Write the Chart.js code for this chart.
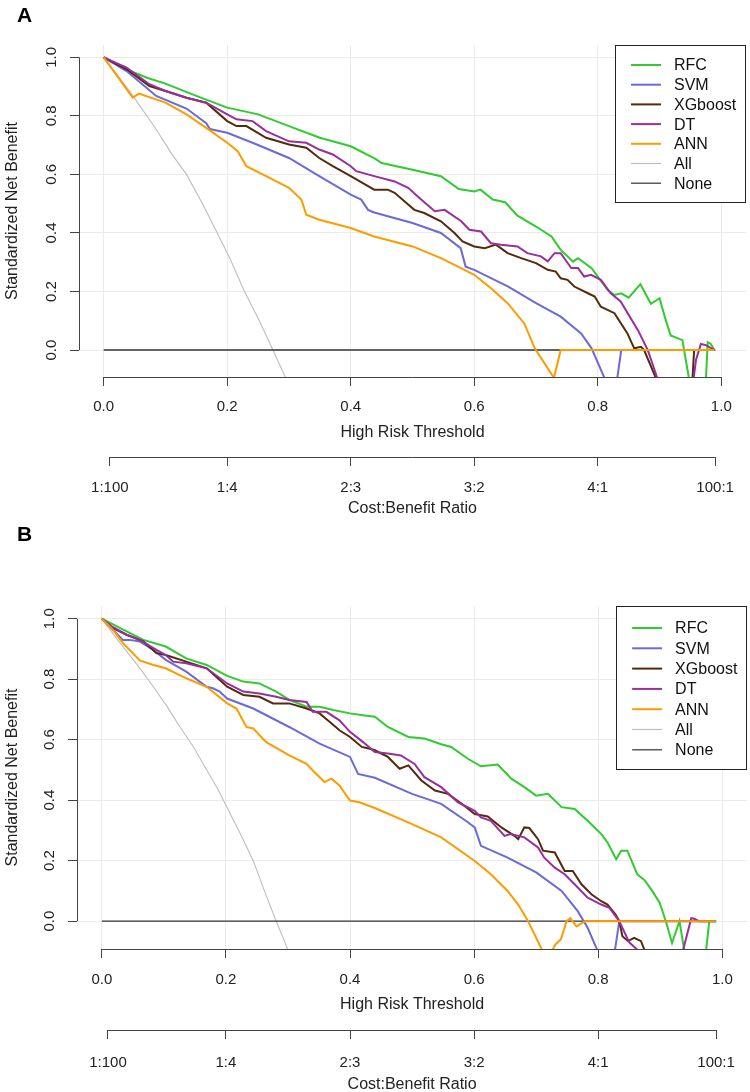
<!DOCTYPE html>
<html><head><meta charset="utf-8">
<script src="https://cdn.jsdelivr.net/npm/chart.js@4.4.0/dist/chart.umd.min.js"></script>
<style>
html,body{margin:0;padding:0;background:#fff;}
#wrap{position:relative;width:750px;height:1092px;overflow:hidden;}
.panel{position:absolute;left:0;width:750px;}
.tag{position:absolute;left:17px;font:bold 21px "Liberation Sans",Arial,sans-serif;line-height:21px;color:#000;}
</style></head><body>
<div id="wrap">
<div class="panel" style="top:0;height:525px"><canvas id="cA" width="750" height="525"></canvas></div>
<div class="panel" style="top:525px;height:570px"><canvas id="cB" width="750" height="570"></canvas></div>
<div class="tag" style="top:4px">A</div>
<div class="tag" style="top:523px">B</div>
</div>
<script>
// ---- shared labels / ticks ----
const modelNames = ['RFC','SVM','XGboost','DT','ANN','All','None'];
const modelColors = ['#2FCB2F','#6A6AD8','#542A0C','#9A2E9A','#FF9A00','#BDBDBD','#333333'];
const xTicks = [0,0.2,0.4,0.6,0.8,1.0];
const yTicks = [0,0.2,0.4,0.6,0.8,1.0];
const costTicks = [0.0099,0.2,0.4,0.6,0.8,0.99];
const costLabels = ['1:100','1:4','2:3','3:2','4:1','100:1'];

// ---- panel A series: [threshold, standardized net benefit] ----
const rfcA = [[0,1],[0.037,0.959],[0.07,0.93],[0.1,0.91],[0.15,0.868],[0.2,0.828],[0.25,0.805],[0.3,0.765],[0.35,0.725],[0.4,0.696],[0.44,0.653],[0.45,0.639],[0.5,0.616],[0.546,0.594],[0.575,0.55],[0.6,0.542],[0.61,0.548],[0.63,0.514],[0.65,0.505],[0.67,0.459],[0.7,0.422],[0.725,0.388],[0.74,0.342],[0.76,0.302],[0.768,0.314],[0.79,0.28],[0.8,0.251],[0.816,0.205],[0.827,0.188],[0.838,0.194],[0.85,0.179],[0.869,0.225],[0.886,0.158],[0.9,0.177],[0.91,0.103],[0.918,0.05],[0.937,0.034],[0.952,-0.15],[0.974,-0.15],[0.978,0.027],[0.983,0.021],[0.989,0]];
const svmA = [[0,1],[0.037,0.953],[0.085,0.868],[0.134,0.825],[0.166,0.775],[0.172,0.755],[0.2,0.742],[0.241,0.708],[0.3,0.656],[0.349,0.594],[0.4,0.531],[0.417,0.514],[0.428,0.479],[0.438,0.47],[0.5,0.434],[0.546,0.4],[0.578,0.348],[0.586,0.285],[0.6,0.274],[0.655,0.217],[0.7,0.16],[0.74,0.114],[0.773,0.057],[0.79,0.006],[0.822,-0.15],[0.828,-0.15],[0.838,0],[0.99,0]];
const xgbA = [[0,1],[0.037,0.959],[0.074,0.902],[0.1,0.885],[0.134,0.862],[0.166,0.845],[0.2,0.782],[0.215,0.765],[0.231,0.765],[0.263,0.725],[0.3,0.702],[0.328,0.691],[0.349,0.656],[0.371,0.628],[0.4,0.594],[0.438,0.548],[0.46,0.548],[0.471,0.537],[0.503,0.479],[0.519,0.468],[0.546,0.44],[0.568,0.4],[0.581,0.371],[0.6,0.354],[0.617,0.348],[0.635,0.36],[0.654,0.331],[0.676,0.314],[0.7,0.297],[0.719,0.274],[0.732,0.268],[0.74,0.245],[0.751,0.24],[0.762,0.217],[0.784,0.194],[0.795,0.183],[0.805,0.148],[0.827,0.126],[0.848,0.057],[0.859,0.006],[0.87,0.011],[0.875,0],[0.905,-0.15],[0.952,-0.15],[0.956,0],[0.99,0]];
const dtA = [[0,1],[0.037,0.965],[0.074,0.908],[0.1,0.885],[0.134,0.862],[0.166,0.845],[0.2,0.805],[0.215,0.788],[0.241,0.782],[0.263,0.748],[0.3,0.713],[0.328,0.708],[0.349,0.685],[0.371,0.668],[0.4,0.628],[0.409,0.611],[0.438,0.594],[0.471,0.576],[0.493,0.554],[0.514,0.514],[0.536,0.474],[0.552,0.479],[0.579,0.44],[0.592,0.411],[0.611,0.405],[0.627,0.365],[0.643,0.36],[0.67,0.354],[0.686,0.331],[0.708,0.32],[0.719,0.303],[0.73,0.331],[0.74,0.331],[0.757,0.28],[0.768,0.28],[0.778,0.251],[0.789,0.257],[0.805,0.24],[0.821,0.194],[0.837,0.166],[0.865,0.068],[0.881,0],[0.905,-0.15],[0.952,-0.15],[0.959,-0.034],[0.967,0.021],[0.975,0.017],[0.989,0]];
const annA = [[0,1],[0.047,0.862],[0.057,0.876],[0.1,0.845],[0.134,0.805],[0.166,0.759],[0.2,0.708],[0.217,0.679],[0.231,0.628],[0.263,0.594],[0.3,0.554],[0.32,0.514],[0.328,0.462],[0.349,0.445],[0.4,0.417],[0.438,0.388],[0.5,0.354],[0.546,0.314],[0.6,0.257],[0.627,0.211],[0.654,0.16],[0.681,0.091],[0.698,0.006],[0.729,-0.095],[0.74,0],[0.989,0]];
const allA = [[0,1],[0.02,0.945],[0.04,0.89],[0.06,0.83],[0.083,0.76],[0.11,0.67],[0.134,0.6],[0.16,0.5],[0.184,0.4],[0.205,0.31],[0.228,0.2],[0.252,0.1],[0.274,0],[0.3,-0.12]];
const noneA = [[0,0],[0.99,0]];

// ---- panel B series ----
const rfcB = [[0,1],[0.04,0.958],[0.067,0.93],[0.103,0.908],[0.136,0.869],[0.169,0.847],[0.202,0.811],[0.228,0.792],[0.254,0.786],[0.281,0.759],[0.303,0.731],[0.33,0.709],[0.351,0.709],[0.373,0.698],[0.4,0.687],[0.421,0.681],[0.44,0.676],[0.461,0.642],[0.494,0.609],[0.52,0.604],[0.547,0.585],[0.563,0.576],[0.59,0.537],[0.611,0.512],[0.638,0.518],[0.66,0.471],[0.681,0.443],[0.7,0.415],[0.719,0.421],[0.741,0.377],[0.762,0.371],[0.783,0.332],[0.805,0.288],[0.815,0.26],[0.829,0.205],[0.837,0.233],[0.847,0.233],[0.863,0.155],[0.875,0.135],[0.887,0.1],[0.899,0.061],[0.909,0],[0.919,-0.072],[0.931,0],[0.943,-0.15],[0.971,-0.15],[0.979,0],[0.99,0]];
const svmB = [[0,1],[0.034,0.93],[0.045,0.93],[0.061,0.925],[0.083,0.897],[0.103,0.864],[0.136,0.825],[0.169,0.775],[0.179,0.77],[0.19,0.759],[0.202,0.736],[0.244,0.703],[0.302,0.642],[0.351,0.587],[0.4,0.543],[0.413,0.487],[0.44,0.474],[0.5,0.421],[0.547,0.388],[0.59,0.327],[0.601,0.31],[0.611,0.249],[0.654,0.21],[0.7,0.161],[0.741,0.1],[0.767,0.033],[0.783,-0.022],[0.81,-0.15],[0.823,-0.15],[0.834,0],[0.99,0]];
const xgbB = [[0,1],[0.018,0.969],[0.04,0.947],[0.067,0.925],[0.088,0.886],[0.103,0.88],[0.136,0.858],[0.169,0.836],[0.202,0.775],[0.228,0.748],[0.254,0.742],[0.276,0.72],[0.302,0.72],[0.33,0.703],[0.351,0.687],[0.367,0.659],[0.383,0.631],[0.4,0.609],[0.419,0.576],[0.432,0.57],[0.44,0.565],[0.461,0.543],[0.48,0.504],[0.494,0.515],[0.515,0.465],[0.537,0.432],[0.558,0.421],[0.58,0.388],[0.601,0.354],[0.622,0.346],[0.644,0.31],[0.665,0.282],[0.671,0.271],[0.681,0.31],[0.689,0.308],[0.703,0.271],[0.711,0.233],[0.73,0.227],[0.746,0.166],[0.759,0.166],[0.773,0.122],[0.789,0.089],[0.805,0.066],[0.815,0.055],[0.828,0.022],[0.834,0],[0.839,-0.05],[0.848,-0.066],[0.858,-0.055],[0.869,-0.066],[0.885,-0.15]];
const dtB = [[0,1],[0.018,0.972],[0.04,0.947],[0.061,0.93],[0.088,0.897],[0.103,0.88],[0.115,0.858],[0.136,0.853],[0.169,0.836],[0.202,0.786],[0.228,0.759],[0.254,0.753],[0.281,0.742],[0.302,0.731],[0.33,0.725],[0.34,0.692],[0.362,0.692],[0.383,0.664],[0.4,0.626],[0.421,0.592],[0.44,0.559],[0.461,0.554],[0.482,0.548],[0.504,0.52],[0.52,0.476],[0.547,0.443],[0.574,0.393],[0.601,0.365],[0.611,0.343],[0.627,0.332],[0.649,0.282],[0.659,0.288],[0.681,0.277],[0.703,0.244],[0.713,0.21],[0.73,0.177],[0.746,0.155],[0.762,0.122],[0.783,0.078],[0.805,0.055],[0.818,0.044],[0.834,0],[0.85,-0.07],[0.866,-0.1],[0.87,-0.15],[0.93,-0.15],[0.95,0.01],[0.955,0.008],[0.962,0],[0.99,0]];
const annB = [[0,1],[0.018,0.963],[0.034,0.919],[0.05,0.886],[0.061,0.862],[0.083,0.847],[0.103,0.836],[0.136,0.803],[0.169,0.775],[0.202,0.72],[0.217,0.703],[0.233,0.642],[0.244,0.637],[0.265,0.592],[0.302,0.548],[0.33,0.52],[0.34,0.498],[0.359,0.46],[0.37,0.471],[0.383,0.449],[0.4,0.399],[0.415,0.393],[0.44,0.374],[0.5,0.321],[0.547,0.277],[0.601,0.199],[0.627,0.155],[0.654,0.1],[0.671,0.055],[0.687,0],[0.713,-0.11],[0.722,-0.11],[0.731,-0.077],[0.74,-0.06],[0.749,0],[0.755,0.01],[0.765,-0.017],[0.779,0],[0.99,0]];
const allB = [[0,1],[0.02,0.945],[0.04,0.892],[0.06,0.84],[0.083,0.775],[0.105,0.71],[0.126,0.642],[0.148,0.575],[0.169,0.5],[0.186,0.44],[0.202,0.375],[0.223,0.29],[0.244,0.2],[0.262,0.1],[0.281,0],[0.305,-0.12]];
const noneB = [[0,0],[0.99,0]];

const FONT = '"Liberation Sans", Arial, sans-serif';
Chart.defaults.font.family = FONT;
Chart.defaults.color = '#222';

const rAxes = {
  id: 'rAxes',
  afterDraw(chart) {
    const {ctx, chartArea, scales} = chart;
    const x = scales.x, y = scales.y, x2 = scales.x2;
    ctx.save();
    ctx.strokeStyle = '#444';
    ctx.lineWidth = 1;
    ctx.beginPath();
    const lx = Math.round(chartArea.left) + 0.5;
    ctx.moveTo(lx, y.getPixelForValue(yTicks[0]));
    ctx.lineTo(lx, y.getPixelForValue(yTicks[yTicks.length-1]));
    const by = Math.round(chartArea.bottom) + 0.5;
    ctx.moveTo(x.getPixelForValue(xTicks[0]), by);
    ctx.lineTo(x.getPixelForValue(xTicks[xTicks.length-1]), by);
    const cy = Math.round(x2.top) + 0.5;
    ctx.moveTo(x2.getPixelForValue(costTicks[0]), cy);
    ctx.lineTo(x2.getPixelForValue(costTicks[costTicks.length-1]), cy);
    ctx.stroke();
    ctx.restore();
  }
};

const rLegend = {
  id: 'rLegend',
  afterDraw(chart, args, opts) {
    const {ctx, chartArea} = chart;
    const w = 131, h = opts.h, step = opts.step;
    const right = chartArea.right, top = chartArea.top;
    const left = right - w;
    ctx.save();
    ctx.fillStyle = '#fff';
    ctx.fillRect(left, top, w, h);
    ctx.strokeStyle = '#222';
    ctx.lineWidth = 1;
    ctx.strokeRect(Math.round(left)+0.5, Math.round(top)+0.5, w-1, h-1);
    ctx.font = '16px ' + FONT;
    ctx.textBaseline = 'middle';
    ctx.textAlign = 'left';
    modelNames.forEach((name, i) => {
      const yy = top + opts.first + i * step;
      ctx.strokeStyle = modelColors[i];
      ctx.lineWidth = i < 5 ? 2 : 1.2;
      ctx.beginPath();
      ctx.moveTo(left + 16, yy);
      ctx.lineTo(left + 46, yy);
      ctx.stroke();
      ctx.fillStyle = '#111';
      ctx.fillText(name, left + 59, yy + 1);
    });
    ctx.restore();
  }
};

function makePanel(id, series, L) {
  const datasets = series.map((d, i) => ({
    label: modelNames[i],
    data: d,
    borderColor: modelColors[i],
    backgroundColor: modelColors[i],
    borderWidth: i < 5 ? 2 : (i === 5 ? 1.1 : 1.4),
    pointRadius: 0,
    tension: 0,
    fill: false,
    order: [5,4,3,2,1,7,6][i],
    xAxisID: 'x', yAxisID: 'y'
  }));
  return new Chart(document.getElementById(id), {
    type: 'line',
    data: { datasets },
    plugins: [rAxes, rLegend],
    options: {
      responsive: false,
      animation: false,
      layout: { padding: { top: L.top, right: L.right, left: 0, bottom: L.bottom } },
      plugins: { legend: { display: false }, tooltip: { enabled: false },
        rLegend: { h: L.legH, step: L.legStep, first: L.legFirst } },
      scales: {
        x: {
          type: 'linear', position: 'bottom', weight: 0, min: -0.04, max: 1.04,
          afterBuildTicks: a => { a.ticks = xTicks.map(v => ({ value: v })); },
          afterFit: s => { s.height = L.xH; },
          grid: { color: '#EBEBEB', lineWidth: 1, drawTicks: true, tickLength: 9, tickColor: '#444', tickWidth: 1 },
          border: { display: false },
          ticks: { autoSkip: false, maxRotation: 0, minRotation: 0, padding: L.xPad, font: { size: 15 }, color: '#222', callback: v => Number(v).toFixed(1) },
          title: { display: true, text: 'High Risk Threshold', font: { size: 16 }, color: '#222', padding: { top: 0, bottom: L.xTb } }
        },
        x2: {
          type: 'linear', position: 'bottom', weight: 1, min: -0.04, max: 1.04,
          afterBuildTicks: a => { a.ticks = costTicks.map(v => ({ value: v })); },
          afterFit: s => { s.height = L.x2H; },
          grid: { drawOnChartArea: false, drawTicks: true, tickLength: 9, tickColor: '#444', color: '#444', tickWidth: 1 },
          border: { display: false },
          ticks: { autoSkip: false, maxRotation: 0, minRotation: 0, padding: L.x2Pad, font: { size: 15 }, color: '#222', callback: (v, i) => costLabels[i] },
          title: { display: true, text: 'Cost:Benefit Ratio', font: { size: 16 }, color: '#222', padding: { top: 0, bottom: L.x2Tb } }
        },
        y: {
          type: 'linear', position: 'left', min: -0.092, max: 1.042,
          afterBuildTicks: a => { a.ticks = yTicks.map(v => ({ value: v })); },
          afterFit: s => { s.width = L.yW; },
          grid: { color: '#EBEBEB', lineWidth: 1, drawTicks: true, tickLength: 9, tickColor: '#444', tickWidth: 1 },
          border: { display: false },
          ticks: { minRotation: 90, maxRotation: 90, crossAlign: 'center', padding: 8, font: { size: 15 }, color: '#222', callback: v => Number(v).toFixed(1) },
          title: { display: true, text: 'Standardized Net Benefit', font: { size: 16 }, color: '#222', padding: { top: 3, bottom: 0 } }
        }
      }
    }
  });
}

makePanel('cA', [rfcA, svmA, xgbA, dtA, annA, allA, noneA],
  { top: 45, right: 4, bottom: 6, xH: 80, x2H: 62, yW: 79, xPad: 12, x2Pad: 13, xTb: 15, x2Tb: 1, legH: 158, legStep: 19.7, legFirst: 20 });
makePanel('cB', [rfcB, svmB, xgbB, dtB, annB, allB, noneB],
  { top: 81, right: 2, bottom: 0, xH: 81, x2H: 65, yW: 77, xPad: 13, x2Pad: 15, xTb: 16, x2Tb: 1, legH: 164, legStep: 20.3, legFirst: 22 });
</script>
</body></html>
